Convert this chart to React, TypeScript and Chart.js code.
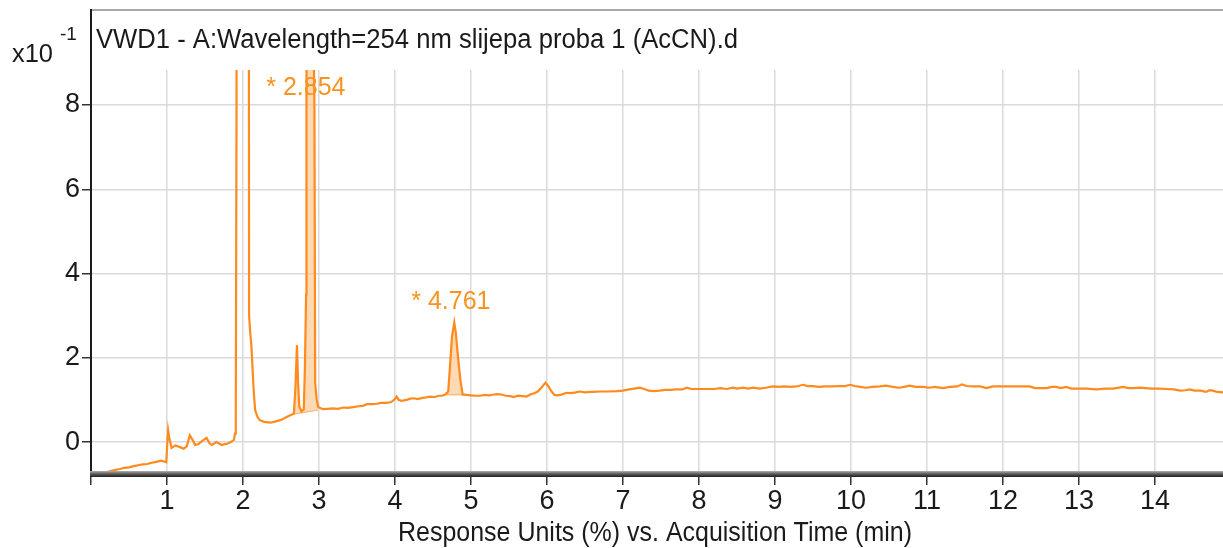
import React, { useEffect, useRef } from 'react';
import { Chart, registerables } from 'chart.js';

Chart.register(...registerables);

// ---- data ----
const times = [
  0.2, 0.26, 0.32, 0.38, 0.44, 0.5, 0.56, 0.62, 0.68, 0.74, 0.8, 0.86, 0.92, 0.96, 0.99,
  1.005, 1.015, 1.03, 1.06, 1.11, 1.17, 1.22, 1.26, 1.3, 1.34, 1.37, 1.41, 1.46, 1.52, 1.56,
  1.59, 1.65, 1.69, 1.72, 1.76, 1.79, 1.84, 1.88, 1.895, 1.905, 1.915, 1.925, 1.94, 2.05, 2.07,
  2.08, 2.095, 2.11, 2.14, 2.16, 2.19, 2.22, 2.28, 2.36, 2.43, 2.49, 2.55, 2.6, 2.64, 2.67,
  2.69, 2.71, 2.725, 2.74, 2.77, 2.8, 2.815, 2.83, 2.835, 2.845, 2.885, 2.94, 2.95, 2.97, 2.99,
  3.05, 3.12, 3.18, 3.25, 3.32, 3.38, 3.45, 3.52, 3.58, 3.63, 3.7, 3.76, 3.82, 3.89, 3.95,
  4.0, 4.02, 4.05, 4.09, 4.15, 4.2, 4.24, 4.3, 4.36, 4.41, 4.46, 4.52, 4.58, 4.62, 4.66,
  4.7, 4.72, 4.75, 4.78, 4.8, 4.83, 4.86, 4.89, 4.94, 5.0, 5.06, 5.12, 5.18, 5.24, 5.3,
  5.34, 5.4, 5.46, 5.52, 5.56, 5.62, 5.68, 5.73, 5.78, 5.83, 5.88, 5.93, 5.98, 6.02, 6.06,
  6.1, 6.14, 6.18, 6.26, 6.32, 6.38, 6.43, 6.5, 6.56, 6.61, 6.7, 6.8, 6.92, 7.0, 7.08,
  7.15, 7.22, 7.28, 7.34, 7.4, 7.48, 7.55, 7.62, 7.7, 7.78, 7.84, 7.9, 8.0, 8.1, 8.2,
  8.28, 8.36, 8.45, 8.5, 8.58, 8.65, 8.71, 8.8, 8.88, 8.97, 9.05, 9.12, 9.2, 9.28, 9.37,
  9.43, 9.5, 9.58, 9.66, 9.75, 9.84, 9.92, 9.99, 10.05, 10.12, 10.2, 10.28, 10.38, 10.46, 10.55,
  10.63, 10.7, 10.77, 10.85, 10.95, 11.03, 11.1, 11.21, 11.3, 11.4, 11.46, 11.52, 11.6, 11.7, 11.78,
  11.87, 11.95, 12.05, 12.15, 12.25, 12.35, 12.42, 12.5, 12.58, 12.64, 12.7, 12.76, 12.83, 12.9, 13.0,
  13.1, 13.23, 13.35, 13.45, 13.58, 13.65, 13.71, 13.8, 13.88, 13.95, 14.05, 14.15, 14.25, 14.33, 14.4,
  14.46, 14.52, 14.6, 14.67, 14.72, 14.76, 14.82, 14.9,
];
const signal = [
  -0.72, -0.69, -0.66, -0.64, -0.61, -0.6, -0.57, -0.55, -0.53, -0.52, -0.49, -0.47, -0.44, -0.46, -0.48,
  0.0, 0.28, 0.1, -0.14, -0.08, -0.12, -0.16, -0.1, 0.16, 0.04, -0.07, -0.05, 0.02, 0.1, -0.03,
  -0.07, 0.0, -0.04, -0.07, -0.05, -0.04, 0.0, 0.05, 0.2, 0.6, 8, 40, 70, 70, 30,
  3.0, 2.6, 2.3, 1.24, 0.76, 0.6, 0.52, 0.48, 0.46, 0.49, 0.52, 0.57, 0.62, 0.65, 0.68,
  1.3, 2.3, 1.4, 0.85, 0.73, 0.78, 1.8, 3.5, 8, 16, 16, 8, 1.4, 1.0, 0.83,
  0.78, 0.79, 0.8, 0.79, 0.82, 0.81, 0.83, 0.85, 0.86, 0.9, 0.9, 0.91, 0.93, 0.93, 0.95,
  1.02, 1.08, 1.0, 0.98, 1.0, 1.03, 1.04, 1.02, 1.05, 1.06, 1.08, 1.07, 1.1, 1.1, 1.13,
  1.2, 1.7, 2.5, 2.84, 2.6, 2.0, 1.48, 1.13, 1.12, 1.11, 1.1, 1.1, 1.12, 1.11, 1.13,
  1.14, 1.13, 1.1, 1.09, 1.07, 1.1, 1.09, 1.08, 1.13, 1.16, 1.2, 1.3, 1.41, 1.32, 1.2,
  1.12, 1.11, 1.12, 1.17, 1.16, 1.18, 1.2, 1.18, 1.19, 1.19, 1.2, 1.2, 1.21, 1.22, 1.25,
  1.27, 1.29, 1.26, 1.22, 1.21, 1.22, 1.24, 1.24, 1.25, 1.25, 1.29, 1.26, 1.26, 1.26, 1.26,
  1.28, 1.26, 1.29, 1.27, 1.29, 1.27, 1.29, 1.27, 1.29, 1.32, 1.31, 1.32, 1.31, 1.32, 1.36,
  1.33, 1.33, 1.31, 1.32, 1.32, 1.33, 1.33, 1.36, 1.33, 1.31, 1.29, 1.31, 1.32, 1.34, 1.31,
  1.29, 1.31, 1.34, 1.31, 1.31, 1.29, 1.31, 1.28, 1.31, 1.32, 1.37, 1.33, 1.32, 1.32, 1.28,
  1.32, 1.32, 1.32, 1.32, 1.32, 1.32, 1.28, 1.28, 1.28, 1.31, 1.31, 1.28, 1.31, 1.27, 1.27,
  1.27, 1.25, 1.27, 1.27, 1.31, 1.28, 1.28, 1.29, 1.28, 1.27, 1.27, 1.26, 1.25, 1.22, 1.23,
  1.25, 1.22, 1.22, 1.19, 1.23, 1.22, 1.19, 1.18,
];

// integrated peak regions (start/end times and baseline values)
const areaStart = [2.67, 4.66];
const areaEnd = [2.99, 4.94];
const areaBaseStart = [0.66, 1.12];
const areaBaseEnd = [0.76, 1.12];

// labelled peaks
const peakTimes = [2.854, 4.761];
const peakLabels = ['* 2.854', '* 4.761'];

const xTicks = [0, 1, 2, 3, 4, 5, 6, 7, 8, 9, 10, 11, 12, 13, 14];
const yTicks = [0, 2, 4, 6, 8];

const titleText = 'VWD1 - A:Wavelength=254 nm slijepa proba 1 (AcCN).d';
const xAxisTitle = 'Response Units (%) vs. Acquisition Time (min)';
const yMultiplier = 'x10';
const yExponent = '-1';

const FAMILY = "'Liberation Sans', Arial, Helvetica, sans-serif";
const LINE = '#ff8a1e';
const LABEL = '#f7931e';
const FILL = 'rgba(252, 196, 140, 0.65)';

function fitText(ctx: CanvasRenderingContext2D, text: string, x: number, y: number, size: number, width: number, color: string, align: 'left' | 'center') {
  ctx.save();
  ctx.font = `${size}px ${FAMILY}`;
  const w = ctx.measureText(text).width;
  const s = Math.min(1, width / w);
  ctx.translate(align === 'center' ? x - (w * s) / 2 : x, y);
  ctx.scale(s, 1);
  ctx.fillStyle = color;
  ctx.textAlign = 'left';
  ctx.textBaseline = 'alphabetic';
  ctx.fillText(text, 0, 0);
  ctx.restore();
}

const decor = {
  id: 'decor',
  beforeDraw(chart: any) {
    const ctx = chart.ctx;
    ctx.save();
    ctx.fillStyle = '#ffffff';
    ctx.fillRect(0, 0, chart.width, chart.height);
    ctx.restore();
  },
  afterDraw(chart: any) {
    const ctx: CanvasRenderingContext2D = chart.ctx;
    const { left, right, top, bottom } = chart.chartArea;
    const xs = chart.scales.x;
    const ys = chart.scales.y;
    ctx.save();
    // top frame line
    ctx.strokeStyle = '#a8a8a8';
    ctx.lineWidth = 2;
    ctx.beginPath();
    ctx.moveTo(left, 10);
    ctx.lineTo(right, 10);
    ctx.stroke();
    // left axis
    ctx.strokeStyle = '#1c1c1c';
    ctx.lineWidth = 2;
    ctx.beginPath();
    ctx.moveTo(left, 9);
    ctx.lineTo(left, bottom + 5);
    ctx.stroke();
    // bottom axis band
    const g = ctx.createLinearGradient(0, bottom - 1, 0, bottom + 5);
    g.addColorStop(0, '#b0b0b0');
    g.addColorStop(0.5, '#5a5a5a');
    g.addColorStop(1, '#1e1e1e');
    ctx.fillStyle = g;
    ctx.fillRect(left - 1, bottom - 1, right - left + 1, 6);
    ctx.restore();

    // title and axis texts
    fitText(ctx, titleText, 96, 48, 27, 642, '#1a1a1a', 'left');
    fitText(ctx, yMultiplier, 12, 62, 26, 41, '#1a1a1a', 'left');
    fitText(ctx, yExponent, 60, 40, 19, 18, '#1a1a1a', 'left');
    fitText(ctx, xAxisTitle, 655, 541, 27, 514, '#1a1a1a', 'center');

    // peak labels
    peakTimes.forEach((t, i) => {
      let peak = -Infinity;
      times.forEach((tt, k) => {
        if (Math.abs(tt - t) <= 0.06) peak = Math.max(peak, signal[k]);
      });
      const py = ys.getPixelForValue(peak);
      const base = Math.max(py - 13, top + 25);
      fitText(ctx, peakLabels[i], xs.getPixelForValue(t) - 2, base, 25, 80, LABEL, 'center');
    });
  },
};

export default function App() {
  const ref = useRef<HTMLCanvasElement>(null);
  useEffect(() => {
    document.body.style.margin = '0';
    const pts = times.map((t, i) => ({ x: t, y: signal[i] }));
    const areaSets = areaStart.map((s, i) => ({
      data: pts.filter((p) => p.x >= s && p.x <= areaEnd[i]),
      borderWidth: 0,
      pointRadius: 0,
      backgroundColor: FILL,
      fill: { target: 1 + areaStart.length + i, above: FILL, below: FILL },
      order: 3,
    }));
    const baseSets = areaStart.map((s, i) => ({
      data: [
        { x: s, y: areaBaseStart[i] },
        { x: areaEnd[i], y: areaBaseEnd[i] },
      ],
      borderColor: 'rgba(255, 150, 60, 0.7)',
      borderWidth: 1,
      pointRadius: 0,
      fill: false,
      order: 2,
    }));
    const font = { family: FAMILY, size: 27 };
    const chart = new Chart(ref.current as HTMLCanvasElement, {
      type: 'line',
      data: {
        datasets: [
          {
            data: pts,
            borderColor: LINE,
            borderWidth: 2.2,
            pointRadius: 0,
            tension: 0,
            fill: false,
            order: 0,
          } as any,
          ...(areaSets as any[]),
          ...(baseSets as any[]),
        ],
      },
      options: {
        responsive: false,
        animation: false,
        devicePixelRatio: 1,
        layout: { padding: { top: 70, right: 0, left: 0, bottom: 0 } },
        plugins: { legend: { display: false }, tooltip: { enabled: false }, title: { display: false } },
        scales: {
          x: {
            type: 'linear',
            min: 0,
            max: 14.895,
            afterBuildTicks: (s: any) => {
              s.ticks = xTicks.map((v) => ({ value: v }));
            },
            afterFit: (s: any) => {
              s.height = 76;
            },
            ticks: {
              font,
              color: '#1a1a1a',
              padding: 0,
              maxRotation: 0,
              autoSkip: false,
              callback: (v: any) => (v === 0 ? '' : String(v)),
            },
            grid: { color: '#dadada', lineWidth: 1.5, tickColor: '#333333', tickLength: 13, tickWidth: 1.5 },
            border: { display: false },
          },
          y: {
            type: 'linear',
            min: -0.71,
            max: 8.83,
            afterBuildTicks: (s: any) => {
              s.ticks = yTicks.map((v) => ({ value: v }));
            },
            afterFit: (s: any) => {
              s.width = 91;
            },
            ticks: { font, color: '#1a1a1a', padding: 2 },
            grid: { color: '#dadada', lineWidth: 1.5, tickColor: '#333333', tickLength: 9, tickWidth: 1.5 },
            border: { display: false },
          },
        },
      },
      plugins: [decor],
    });
    return () => chart.destroy();
  }, []);
  return (
    <div style={{ width: 1223, height: 548, background: '#fff' }}>
      <canvas ref={ref} width={1223} height={548} style={{ display: 'block', width: 1223, height: 548 }} />
    </div>
  );
}
